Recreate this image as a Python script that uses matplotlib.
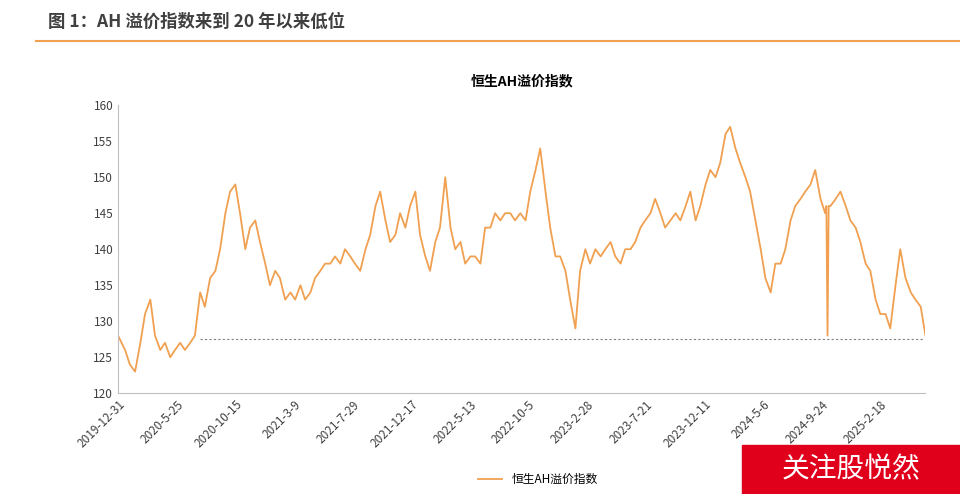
import matplotlib
matplotlib.use("Agg")
import matplotlib.pyplot as plt
from matplotlib.patches import Rectangle
import numpy as np

plt.rcParams["font.family"] = ["Noto Sans CJK SC", "DejaVu Sans"]

tick_labels = ["2019-12-31","2020-5-25","2020-10-15","2021-3-9","2021-7-29","2021-12-17",
               "2022-5-13","2022-10-5","2023-2-28","2023-7-21","2023-12-11","2024-5-6",
               "2024-9-24","2025-2-18"]
# pixel-sampled positions converted to trading-day index
px = [118,125,130,135,140,145,150,155,160,165,170,175,180,185,190,195,200,205,210,215,220,225,230,235,
      240,245,250,255,260,265,270,275,280,285,290,295,300,305,310,315,320,325,330,335,340,345,350,355,
      360,365,370,375,380,385,390,395,400,405,410,415,420,425,430,435,440,445,450,455,460,465,470,475,
      480,485,490,495,500,505,510,515,520,525,530,535,540,545,550,555,560,565,570,575,580,585,590,595,
      600,605,610,615,620,625,630,635,640,645,650,655,660,665,670,675,680,685,690,695,700,705,710,715,
      720,725,730,735,740,745,750,755,760,765,770,775,780,785,790,795,800,805,810,815,820,825,826,827,
      828,830,835,840,845,850,855,860,865,870,875,880,885,890,895,900,905,910,915,920,925]
days = [round((p - 118) / 0.586) for p in px]
values = [128,126,124,123,127,131,133,128,126,127,125,126,127,126,127,128,134,132,136,137,140,145,148,149,
          145,140,143,144,141,138,135,137,136,133,134,133,135,133,134,136,137,138,138,139,138,140,139,138,
          137,140,142,146,148,144,141,142,145,143,146,148,142,139,137,141,143,150,143,140,141,138,139,139,
          138,143,143,145,144,145,145,144,145,144,148,151,154,148,143,139,139,137,133,129,137,140,138,140,
          139,140,141,139,138,140,140,141,143,144,145,147,145,143,144,145,144,146,148,144,146,149,151,150,
          152,156,157,154,152,150,148,144,140,136,134,138,138,140,144,146,147,148,149,151,147,145,146,128,
          146,146,147,148,146,144,143,141,138,137,133,131,131,129,135,140,136,134,133,132,128]
ref_level = 127.6

fig = plt.figure(figsize=(9.6, 4.94), dpi=100)
fig.text(0.05, 0.955, "图 1：AH 溢价指数来到 20 年以来低位", fontsize=12.5, color="#404040",
         fontweight="bold", va="center")
fig.add_artist(plt.Line2D([0.038, 1.0], [0.918, 0.918], color="#F0A050", lw=1.5))

ax = fig.add_axes([0.123, 0.204, 0.841, 0.583])
ax.plot(days, values, color="#F0A050", lw=1.3, label="恒生AH溢价指数")
ax.plot([140, days[-1]], [ref_level, ref_level], color="#808080", lw=0.8, ls=(0, (2, 2)))
ax.set_xlim(0, days[-1])
ax.set_ylim(120, 160)
ax.set_yticks(range(120, 161, 5))
ax.set_xticks([i * 100 for i in range(len(tick_labels))])
ax.set_xticklabels(tick_labels, rotation=45, ha="right", rotation_mode="anchor")
ax.tick_params(labelsize=8.5, colors="#404040", length=0)
for s in ["top", "right"]:
    ax.spines[s].set_visible(False)
ax.spines["left"].set_color("#BFBFBF")
ax.spines["bottom"].set_color("#BFBFBF")
ax.set_title("恒生AH溢价指数", fontsize=10, fontweight="bold", pad=14)
ax.legend(loc="upper center", bbox_to_anchor=(0.52, -0.24), frameon=False, fontsize=8.5)

fig.add_artist(Rectangle((0.773, 0.0), 0.227, 0.1, transform=fig.transFigure,
                         color="#E0001B", zorder=5))
fig.text(0.886, 0.05, "关注股悦然", fontsize=20, color="white", ha="center", va="center", zorder=6)

fig.savefig("out.png", dpi=100, facecolor="white")
